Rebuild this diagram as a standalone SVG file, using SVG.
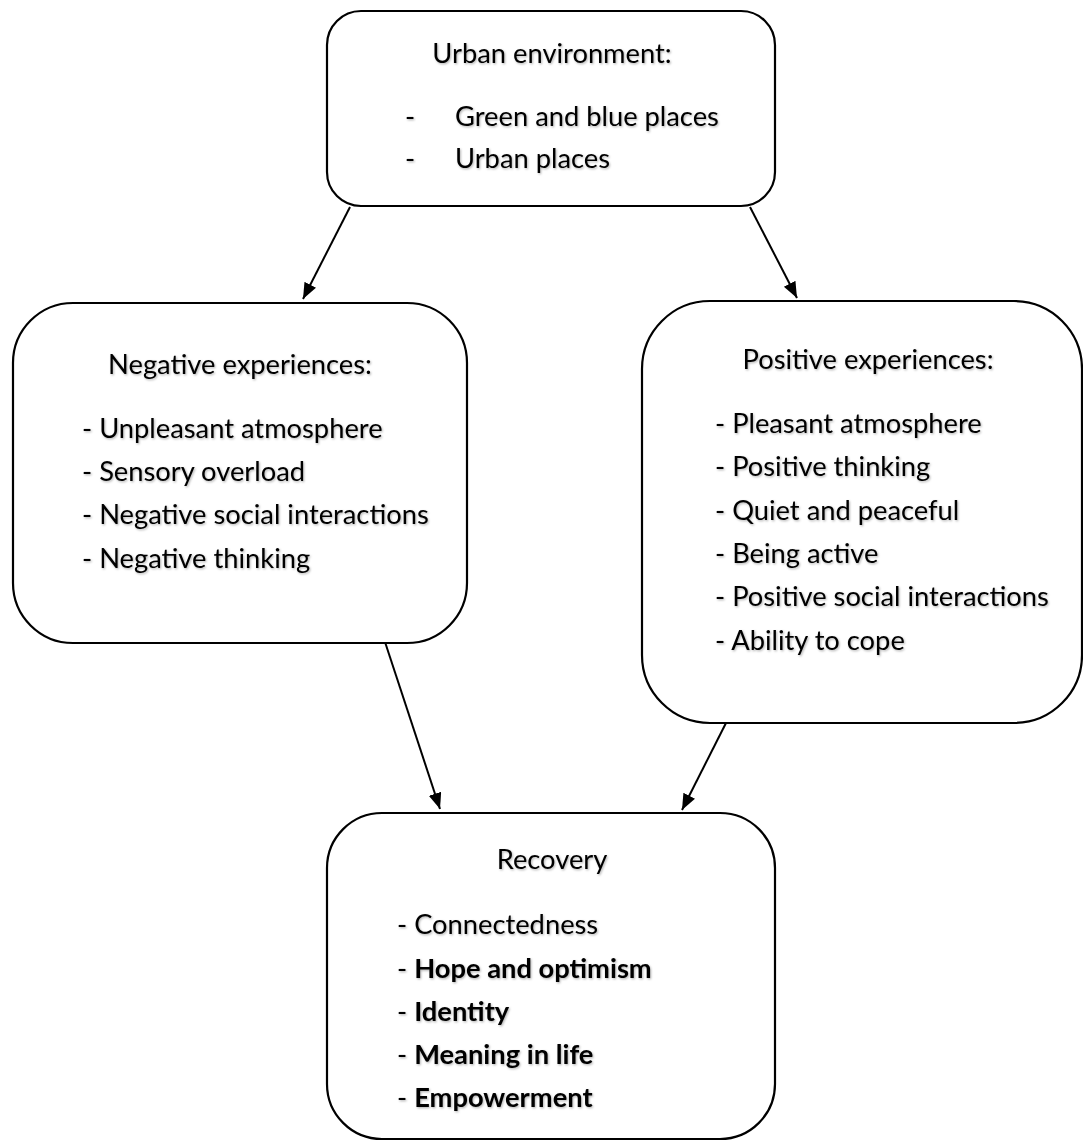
<svg xmlns="http://www.w3.org/2000/svg" width="1083" height="1142" viewBox="0 0 1083 1142">
<style>
.box{fill:#fff;stroke:#000;stroke-width:2.2}
.t{font-family:Lato,"Open Sans","Liberation Sans",sans-serif;font-size:27.3px;fill:#000;filter:url(#sh)}
.b{font-weight:bold}
.c{text-anchor:middle}
.edge{stroke:#000;stroke-width:2;fill:none;marker-end:url(#ah)}
</style>
<defs>
<filter id="sh" x="-5%" y="-30%" width="110%" height="160%">
<feDropShadow dx="1" dy="1.2" stdDeviation="0.8" flood-color="#000" flood-opacity="0.3"/>
</filter>
<marker id="ah" markerUnits="userSpaceOnUse" markerWidth="18" markerHeight="14" refX="16" refY="6.5" orient="auto">
<path d="M0,0 L16,6.5 L0,13 z" fill="#000"/>
</marker>
</defs>
<rect width="1083" height="1142" fill="#fff"/>
<g id="connectors">
<line class="edge" x1="350" y1="207" x2="303" y2="299"/>
<line class="edge" x1="750" y1="207" x2="797" y2="298"/>
<line class="edge" x1="385" y1="642" x2="440" y2="809"/>
<line class="edge" x1="727" y1="721" x2="682" y2="810"/>
</g>
<g id="urban">
<rect class="box" x="327" y="11" width="448" height="195" rx="34"/>
<text class="t c" x="552" y="63">Urban environment:</text>
<text class="t" x="405" y="126">-</text>
<text class="t" x="455" y="126">Green and blue places</text>
<text class="t" x="405" y="168">-</text>
<text class="t" x="455" y="168">Urban places</text>
</g>
<g id="negative">
<rect class="box" x="13" y="303" width="454" height="340" rx="60"/>
<text class="t c" x="240" y="374">Negative experiences:</text>
<text class="t" x="82" y="438">- Unpleasant atmosphere</text>
<text class="t" x="82" y="481">- Sensory overload</text>
<text class="t" x="82" y="524">- Negative social interactions</text>
<text class="t" x="82" y="568">- Negative thinking</text>
</g>
<g id="positive">
<rect class="box" x="642" y="301" width="440" height="422" rx="68"/>
<text class="t c" x="868" y="369">Positive experiences:</text>
<text class="t" x="715" y="433">- Pleasant atmosphere</text>
<text class="t" x="715" y="476">- Positive thinking</text>
<text class="t" x="715" y="520">- Quiet and peaceful</text>
<text class="t" x="715" y="563">- Being active</text>
<text class="t" x="715" y="606">- Positive social interactions</text>
<text class="t" x="715" y="650">- Ability to cope</text>
</g>
<g id="recovery">
<rect class="box" x="327" y="813" width="448" height="326" rx="55"/>
<text class="t c" x="552" y="869">Recovery</text>
<text class="t" x="397" y="934">- Connectedness</text>
<text class="t" x="397" y="978">- <tspan class="b">Hope and optimism</tspan></text>
<text class="t" x="397" y="1021">- <tspan class="b">Identity</tspan></text>
<text class="t" x="397" y="1064">- <tspan class="b">Meaning in life</tspan></text>
<text class="t" x="397" y="1107">- <tspan class="b">Empowerment</tspan></text>
</g>
</svg>
